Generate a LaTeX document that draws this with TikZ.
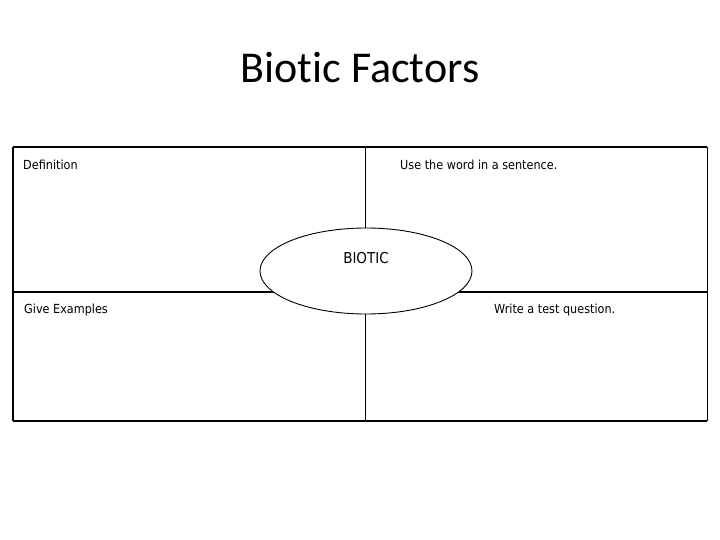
\documentclass[tikz,border=0pt]{standalone}
\usepackage{fontspec}
\setmainfont[Ligatures=NoCommon]{Carlito}
\newfontfamily\lblfont{DejaVu Sans Condensed}
\usetikzlibrary{shapes.geometric}
\tikzset{
  lbl/.style={anchor=west, inner sep=0pt, font=\lblfont\fontsize{12.5}{14}\selectfont},
  thick box/.style={line width=1.6pt},
  thin line/.style={line width=0.9pt},
}
\begin{document}
\begin{tikzpicture}[x=1pt,y=-1pt]
\useasboundingbox[fill=white] (0,0) rectangle (720,540);
\node[inner sep=0pt, font=\fontsize{44}{52}\selectfont] (title) at (360,68) {Biotic Factors};
\coordinate (tl) at (13,147);
\coordinate (tr) at (707,147);
\coordinate (bl) at (13,421);
\coordinate (br) at (707,421);
\coordinate (ml) at (13,292);
\coordinate (mr) at (707,292);
\coordinate (mt) at (365,147);
\coordinate (mb) at (365,421);
\draw[thin line] (mt) -- (mb);
\draw[thick box] (ml) -- (mr);
\draw[thick box] (tl) -- (tr);
\draw[thick box] (bl) -- (br);
\draw[thick box] (tl) -- (bl);
\draw[thin line] (tr) -- (br);
\node[ellipse, draw, fill=white, line width=0.9pt, minimum width=212pt, minimum height=86pt, inner sep=0pt] (center) at (366,271) {};
\node[inner sep=0pt, font=\lblfont\fontsize{15}{17}\selectfont] (biotic) at (366,258) {BIOTIC};
\node[lbl] (def) at (23,165) {Definition};
\node[lbl] (use) at (400,165) {Use the word in a sentence.};
\node[lbl] (ex) at (24,310) {Give Examples};
\node[lbl] (test) at (494,310) {Write a test question.};
\end{tikzpicture}
\end{document}
